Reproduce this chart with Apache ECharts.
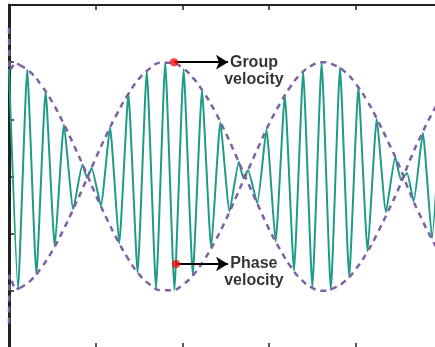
<!DOCTYPE html>
<html>
<head>
<meta charset="utf-8">
<script src="https://cdn.jsdelivr.net/npm/echarts@6/dist/echarts.min.js"></script>
<style>
  html, body { margin: 0; padding: 0; background: #ffffff; }
  #chart { width: 435px; height: 347px; }
</style>
</head>
<body>
<div id="chart"></div>
<script>
// Wave packet: carrier oscillation (turning points) inside a beating envelope
const carrierX = [0.000, 0.104, 0.210, 0.316, 0.422, 0.528, 0.634, 0.741, 0.847, 0.900, 0.953,
  1.059, 1.165, 1.271, 1.377, 1.483, 1.589, 1.696, 1.802, 1.908, 2.014,
  2.120, 2.226, 2.332, 2.438, 2.544, 2.651, 2.704, 2.757, 2.863, 2.969,
  3.075, 3.181, 3.287, 3.393, 3.499, 3.606, 3.712, 3.818, 3.924, 4.030,
  4.136, 4.242, 4.348, 4.455, 4.521, 4.591, 4.667, 4.773, 4.879, 4.985];
const carrierY = [1.88, -1.97, 1.87, -1.71, 1.49, -1.22, 0.91, -0.57, 0.21, -0.02, 0.15,
  -0.51, 0.86, -1.17, 1.45, -1.68, 1.85, -1.96, 2.00, -1.98, 1.88,
  -1.72, 1.51, -1.25, 0.95, -0.61, 0.26, -0.03, 0.11, -0.47, 0.82,
  -1.14, 1.42, -1.65, 1.83, -1.94, 2.00, -1.99, 1.91, -1.76, 1.56,
  -1.31, 1.01, -0.62, 0.34, -0.06, 0.06, -0.44, 0.76, -1.08, 1.40];

const envelopeX = [0.125, 0.25, 0.375, 0.5, 0.625, 0.75, 0.875, 1.0, 1.125, 1.25,
  1.375, 1.5, 1.625, 1.75, 1.875, 2.0, 2.125, 2.25, 2.375, 2.5,
  2.625, 2.75, 2.875, 3.0, 3.125, 3.25, 3.375, 3.5, 3.625, 3.75,
  3.875, 4.0, 4.125, 4.25, 4.375, 4.5, 4.625, 4.75, 4.875, 5.0];
const envelopeUpper = [1.95, 1.82, 1.59, 1.30, 0.94, 0.54, 0.12, -0.32, -0.73, -1.11,
  -1.44, -1.71, -1.89, -1.99, -1.99, -1.90, -1.72, -1.46, -1.14, -0.76,
  -0.34, 0.09, 0.51, 0.92, 1.27, 1.58, 1.81, 1.95, 2.00, 1.95,
  1.83, 1.62, 1.34, 0.99, 0.60, 0.19, -0.29, -0.71, -1.09, -1.43];
const envelopeLower = [-1.95, -1.82, -1.59, -1.30, -0.94, -0.54, -0.12, 0.32, 0.73, 1.11,
  1.44, 1.71, 1.89, 1.99, 1.99, 1.90, 1.72, 1.46, 1.14, 0.76,
  0.34, -0.09, -0.51, -0.92, -1.27, -1.58, -1.81, -1.95, -2.00, -1.95,
  -1.83, -1.62, -1.34, -0.99, -0.60, -0.19, 0.29, 0.71, 1.09, 1.43];

// start of the envelope curves at the left border
const upperStartX = [0, 0.005, 0.07, 0.125];
const upperStartY = [2.6, 1.85, 1.99, 1.95];
const lowerStartX = [0, 0.005, 0.07, 0.125];
const lowerStartY = [-2.57, -1.72, -1.98, -1.95];

// marked points and their captions
const groupPoint = [1.903, 2.0];
const phasePoint = [1.926, -1.53];
const arrowTipX = 2.526;
const captionX = 2.825;
const groupCaptionY = 1.84;
const phaseCaptionY = -1.67;
const groupCaption = 'Group\nvelocity';
const phaseCaption = 'Phase\nvelocity';

const zip = (xs, ys) => xs.map((x, i) => [x, ys[i]]);

const TEAL = '#1e9c86';
const PURPLE = '#7d61a5';
const AXIS = '#222222';

function axisBase(extra) {
  return Object.assign({
    type: 'value',
    axisLine: { show: true, onZero: false, lineStyle: { color: AXIS, width: 2 } },
    axisTick: { show: true, inside: true, length: 5, lineStyle: { color: AXIS, width: 1.5 } },
    axisLabel: { show: false },
    splitLine: { show: false }
  }, extra);
}

const envStyle = { color: PURPLE, width: 2.5, type: [6, 5] };

const chart = echarts.init(document.getElementById('chart'), null, { renderer: 'canvas' });
chart.setOption({
  animation: false,
  backgroundColor: '#ffffff',
  grid: { left: 9, top: 5, right: -7.5, bottom: -1, containLabel: false, outerBoundsMode: 'none' },
  xAxis: [
    axisBase({ min: 0, max: 5, interval: 1, position: 'bottom' }),
    axisBase({ min: 0, max: 5, interval: 1, position: 'top' })
  ],
  yAxis: [
    axisBase({ min: -3, max: 3, interval: 1, position: 'left',
      axisLine: { show: true, onZero: false, lineStyle: { color: AXIS, width: 3 } } })
  ],
  series: [
    {
      type: 'line', data: zip(carrierX, carrierY), showSymbol: false,
      smooth: 0.15, lineStyle: { color: TEAL, width: 2 }, z: 2
    },
    {
      type: 'line', data: zip(envelopeX, envelopeUpper), showSymbol: false,
      smooth: true, lineStyle: envStyle, z: 3
    },
    {
      type: 'line', data: zip(envelopeX, envelopeLower), showSymbol: false,
      smooth: true, lineStyle: envStyle, z: 3
    },
    {
      type: 'line', data: zip(upperStartX, upperStartY), showSymbol: false, clip: false,
      lineStyle: envStyle, z: 3
    },
    {
      type: 'line', data: zip(lowerStartX, lowerStartY), showSymbol: false, clip: false,
      lineStyle: envStyle, z: 3
    },
    {
      type: 'scatter', data: [groupPoint, phasePoint], symbolSize: 8,
      itemStyle: { color: '#ff0a0a' }, z: 6,
      markLine: {
        silent: true, symbol: ['none', 'arrow'], symbolSize: [11, 12],
        lineStyle: { color: '#000000', width: 2, type: 'solid' },
        label: { show: false },
        data: [
          [{ coord: groupPoint }, { coord: [arrowTipX, groupPoint[1]] }],
          [{ coord: phasePoint }, { coord: [arrowTipX, phasePoint[1]] }]
        ]
      }
    },
    {
      type: 'scatter', symbolSize: 0, silent: true, z: 7,
      data: [
        { value: [captionX, groupCaptionY], caption: groupCaption },
        { value: [captionX, phaseCaptionY], caption: phaseCaption }
      ],
      label: {
        show: true, position: 'inside',
        formatter: p => p.data.caption,
        fontFamily: 'Liberation Sans, Arial, sans-serif', fontWeight: 'bold',
        fontSize: 16, lineHeight: 17, color: '#000000', align: 'center',
        textBorderWidth: 0, textShadowBlur: 0
      }
    }
  ]
});
</script>
</body>
</html>
